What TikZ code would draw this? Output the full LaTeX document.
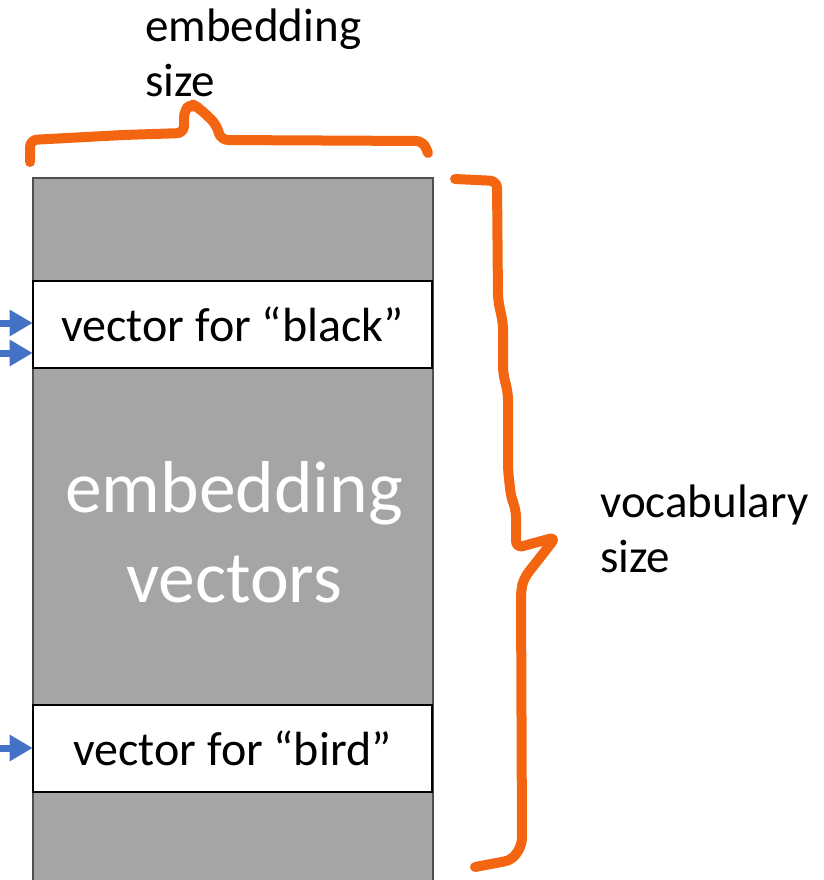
\documentclass[tikz,border=0pt]{standalone}
\usepackage{fontspec}
\setmainfont{Carlito}
\usetikzlibrary{arrows.meta}

\definecolor{tablegray}{HTML}{A5A5A5}
\definecolor{tableedge}{HTML}{4F4F4F}
\definecolor{braceorange}{HTML}{F46511}
\definecolor{arrowblue}{HTML}{4472C4}

\tikzset{
  tablebox/.style={draw=tableedge, line width=2.2pt, fill=tablegray,
    minimum width=400pt, minimum height=724pt, inner sep=0pt},
  rowbox/.style={draw=black, line width=2.6pt, fill=white,
    minimum width=399pt, minimum height=87pt, inner sep=0pt,
    font=\fontsize{48}{56}\selectfont},
  biglabel/.style={text=white, align=center, inner sep=0pt,
    font=\fontsize{73.5}{90}\selectfont},
  sidelabel/.style={align=left, inner sep=0pt,
    font=\fontsize{47}{55}\selectfont},
  handbrace/.style={draw=braceorange, line width=10pt, line cap=round,
    line join=round, rounded corners=7pt},
  lookup/.style={draw=arrowblue, line width=7pt,
    -{Triangle[length=23pt,width=25pt]}, shorten >=-1pt}
}

\begin{document}
\begin{tikzpicture}[x=1pt,y=-1pt]
\useasboundingbox (0,0) rectangle (823,880);

% embedding table and its highlighted rows
\node[tablebox] (table) at (233,540) {};
\node[biglabel] (tabletext) at (234,532) {embedding\\vectors};
\node[rowbox] (black) at (232.5,324.5) {vector for “black”};
\node[rowbox] (bird) at (232.5,748.5) {vector for “bird”};

% dimension labels (anchored on the baseline of their last line)
\node[sidelabel, anchor=base west] (embsize) at (145,97) {embedding\\size};
\node[sidelabel, anchor=base west] (vocsize) at (600,572) {vocabulary\\size};

% hand-drawn braces
\draw[handbrace] (30,162) -- (30,140) -- (123,135) -- (184,133) -- (184,110)
  -- (192,104) -- (199,108) -- (216,124) -- (221,140) -- (423,141) -- (428,153);
\draw[handbrace] (455,179) -- (497,181) -- (498,300) -- (503,323) -- (503,373)
  -- (508,393) -- (508,470) -- (511,497) -- (516,510) -- (516,548)
  -- (556,537) -- (524,578) -- (521,590) -- (522,845) -- (512,860) -- (475,867);

% lookup arrows into the rows
\coordinate (in1) at (0,323);
\coordinate (in2) at (0,353);
\coordinate (in3) at (0,748);
\draw[lookup] (in1) -- (in1 -| black.west);
\draw[lookup] (in2) -- (in2 -| black.west);
\draw[lookup] (in3) -- (in3 -| bird.west);
\end{tikzpicture}
\end{document}
